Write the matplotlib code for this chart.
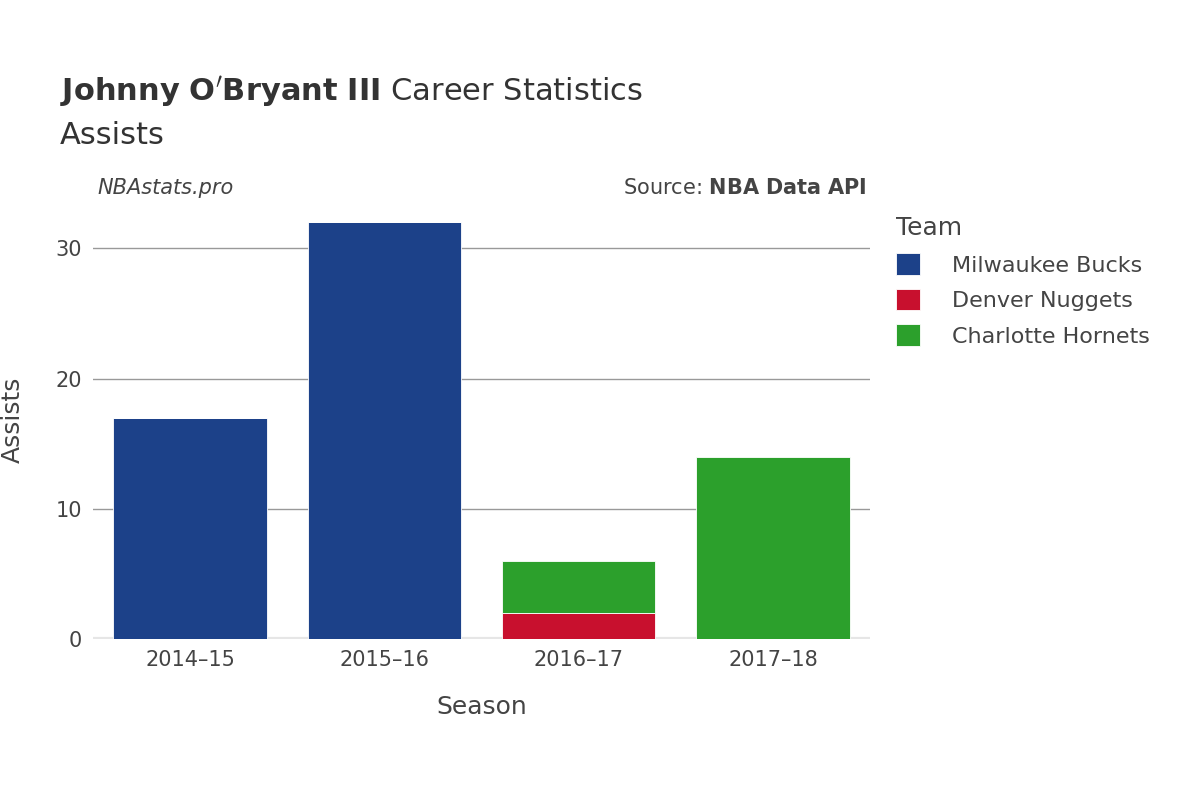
import matplotlib.pyplot as plt
import numpy as np

seasons = ["2014\u201315", "2015\u201316", "2016\u201317", "2017\u201318"]
teams = ["Milwaukee Bucks", "Denver Nuggets", "Charlotte Hornets"]
colors = ["#1c4189", "#c8102e", "#2ca02c"]
bucks = [17, 32, 0, 0]
nuggets = [0, 0, 2, 0]
hornets = [0, 0, 4, 14]

fig = plt.figure(figsize=(12, 8), dpi=100)
ax = fig.add_axes([0.0775, 0.201, 0.6475, 0.549])

x = np.arange(len(seasons))
bottom = np.zeros(len(seasons))
for name, vals, c in zip(teams, [bucks, nuggets, hornets], colors):
    v = np.array(vals, dtype=float)
    ax.bar(x, v, 0.79, bottom=bottom, color=c, edgecolor="white",
           linewidth=0.6, label=name, zorder=3)
    bottom += v

ax.set_xlim(-0.5, 3.5)
ax.set_ylim(0, 33.7)
ax.set_yticks([0, 10, 20, 30])
ax.set_xticks(x)
ax.set_xticklabels(seasons)
ax.grid(axis="y", color="#999999", linewidth=1, zorder=0)
ax.axhline(0, color="#e6e6e6", linewidth=3, zorder=2)
for s in ax.spines.values():
    s.set_visible(False)
ax.tick_params(length=0, labelsize=15, colors="#444444", pad=8)
ax.set_xlabel("Season", fontsize=18, color="#444444", labelpad=18)
ax.set_ylabel("Assists", fontsize=18, color="#444444", labelpad=22)

fig.text(0.05, 0.875, r"$\bf{Johnny\ O'Bryant\ III}$ Career Statistics",
         fontsize=22, color="#333333")
fig.text(0.05, 0.82, "Assists", fontsize=22, color="#333333")
fig.text(0.081, 0.752, "NBAstats.pro", fontsize=15, style="italic",
         color="#444444", va="bottom")
fig.text(0.722, 0.752, r"Source: $\bf{NBA\ Data\ API}$", fontsize=15,
         color="#444444", ha="right", va="bottom")

leg = fig.legend(loc="upper left", bbox_to_anchor=(0.73, 0.755),
                 frameon=False, fontsize=16, title="Team",
                 title_fontsize=18, handlelength=1.1, handleheight=1.1,
                 labelspacing=0.6, handletextpad=1.4)
leg._legend_box.align = "left"
for t in leg.get_texts():
    t.set_color("#444444")
leg.get_title().set_color("#444444")

fig.savefig("out.png")
